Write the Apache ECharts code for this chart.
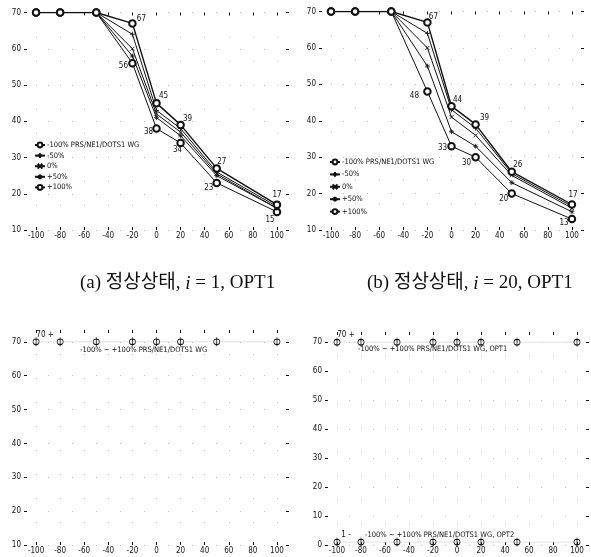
<!DOCTYPE html>
<html>
<head>
<meta charset="utf-8">
<script src="https://cdn.jsdelivr.net/npm/echarts@6/dist/echarts.min.js"></script>
<style>
  html, body { margin: 0; padding: 0; background: #fff; }
  #c { width: 591px; height: 557px; }
</style>
</head>
<body>
<div id="c"></div>
<script>
// tick labels
const xTicks = [-100, -80, -60, -40, -20, 0, 20, 40, 60, 80, 100];
const yTicks = [10, 20, 30, 40, 50, 60, 70];
const yTicksOpt2 = [0, 10, 20, 30, 40, 50, 60, 70];

// load-change positions where the response was evaluated
const xPos = [-100, -80, -50, -20, 0, 20, 50, 100];

// legend / series names
const seriesNames = ['-100% PRS/NE1/DOTS1 WG', '-50%', '0%', '+50%', '+100%'];

// (a) steady state, i = 1, OPT1
const aM100 = [70, 70, 70, 67, 45, 39, 27, 17];
const aM50  = [70, 70, 70, 64, 43, 38, 26, 16.5];
const aZero = [70, 70, 70, 60, 42, 37, 25.5, 16];
const aP50  = [70, 70, 70, 58, 41, 36, 25, 16];
const aP100 = [70, 70, 70, 56, 38, 34, 23, 15];

// (b) steady state, i = 20, OPT1
const bM100 = [70, 70, 70, 67, 44, 39, 26, 17];
const bM50  = [70, 70, 70, 64, 43, 38, 25.5, 16.5];
const bZero = [70, 70, 70, 60, 41, 36, 25, 16];
const bP50  = [70, 70, 70, 55, 37, 33, 23, 15];
const bP100 = [70, 70, 70, 48, 33, 30, 20, 13];

// lower panels: all load cases coincide
const cAll     = [70, 70, 70, 70, 70, 70, 70, 70];
const dAllOpt1 = [70, 70, 70, 70, 70, 70, 70, 70];
const dAllOpt2 = [1, 1, 1, 1, 1, 1, 1, 1];

// captions and notes
const captionA = '(a) 정상상태, {i|i} = 1, OPT1';
const captionB = '(b) 정상상태, {i|i} = 20, OPT1';
const noteC  = '-100% ~ +100% PRS/NE1/DOTS1 WG';
const noteD1 = '-100% ~ +100% PRS/NE1/DOTS1 WG, OPT1';
const noteD2 = '-100% ~ +100% PRS/NE1/DOTS1 WG, OPT2';

const INK = '#111';
const FONT = "'Liberation Sans Narrow','DejaVu Sans Condensed','Liberation Sans',sans-serif";
const SERIF = "'Liberation Serif','Noto Sans CJK KR',serif";

const SYM = {
  plus: 'path://M5,0L5,10M0,5L10,5',
  cross: 'path://M0,0L10,10M10,0L0,10',
  star: 'path://M5,0L5,10M0,5L10,5M1.6,1.6L8.4,8.4M8.4,1.6L1.6,8.4',
  ringBar: 'path://M5,-3L5,13M0,5A5,5 0 1 0 10,5A5,5 0 1 0 0,5'
};

const grids = [
  { left: 24,  top: 12.5, width: 265, height: 217.5 },
  { left: 319, top: 11.5, width: 265, height: 218.5 },
  { left: 24,  top: 330,  width: 265, height: 215 },
  { left: 325, top: 332,  width: 264, height: 213 }
];
const yRange = [[10, 70], [10, 70], [10, 73.5], [0, 73.5]];
const yTickSet = [yTicks, yTicks, yTicks, yTicksOpt2];

const gridDots = { color: '#bdbdbd', width: 1, type: [1, 23] };

const xAxes = [], yAxes = [];
grids.forEach((g, i) => {
  ['bottom', 'top'].forEach(pos => xAxes.push({
    type: 'value', gridIndex: i, position: pos, min: -110, max: 110,
    axisLine: { show: false, onZero: false },
    axisTick: { show: true, inside: true, length: 3, customValues: xTicks, lineStyle: { color: INK, width: 1 } },
    axisLabel: { show: pos === 'bottom', customValues: xTicks, margin: 2, fontSize: 8, fontFamily: FONT, color: INK },
    splitLine: { show: pos === 'bottom', lineStyle: gridDots }
  }));
  ['left', 'right'].forEach(pos => yAxes.push({
    type: 'value', gridIndex: i, position: pos, min: yRange[i][0], max: yRange[i][1],
    axisLine: { show: false, onZero: false },
    axisTick: { show: true, inside: true, length: 3, customValues: yTickSet[i], lineStyle: { color: INK, width: 1 } },
    axisLabel: { show: pos === 'left', customValues: yTickSet[i], margin: 3, fontSize: 8, fontFamily: FONT, color: INK },
    splitLine: { show: pos === 'left', lineStyle: gridDots }
  }));
});

// per-case marker and stroke
const caseStyle = [
  { symbol: 'emptyCircle', size: 6.5, width: 1.4, border: 0.9 },
  { symbol: SYM.plus,  size: 5, width: 1, border: 0.9 },
  { symbol: SYM.cross, size: 4, width: 1, border: 0.9 },
  { symbol: SYM.star,  size: 5, width: 1, border: 0.8 },
  { symbol: 'emptyCircle', size: 6.5, width: 1, border: 0.9 }
];

// value-label offsets (centred on the point) for the bounding cases
const offA = {
  0: [null, null, null, [9, -4], [7, -7], [7, -6], [5, -6], [0, -10]],
  4: [null, null, null, [-9, 3], [-8, 3], [-3, 7], [-8, 5], [-7, 8]]
};
const offB = {
  0: [null, null, null, [6, -6], [6, -6], [9, -6], [6, -7], [1, -10]],
  4: [null, null, null, [-13, 4], [-9, 2], [-9, 6], [-8, 5], [-8, 4]]
};

function points(ys, offs, fmt) {
  return xPos.map((x, k) => {
    const d = { value: [x, ys[k]] };
    if (offs && offs[k]) {
      d.label = {
        show: true, position: 'inside', offset: offs[k],
        fontSize: 8, fontFamily: FONT, color: INK,
        formatter: fmt || (p => String(p.value[1]))
      };
    }
    return d;
  });
}

const series = [];
function addPanel(gi, sets, offs) {
  sets.forEach((ys, s) => {
    const st = caseStyle[s];
    series.push({
      type: 'line', name: seriesNames[s], xAxisIndex: gi * 2, yAxisIndex: gi * 2,
      data: points(ys, offs[s]),
      symbol: st.symbol, symbolSize: st.size, showAllSymbol: true,
      lineStyle: { color: INK, width: st.width },
      itemStyle: { color: INK, borderColor: INK, borderWidth: st.border },
      emphasis: { disabled: true }, animation: false, z: 10 - s
    });
  });
}
addPanel(0, [aM100, aM50, aZero, aP50, aP100], offA);
addPanel(1, [bM100, bM50, bZero, bP50, bP100], offB);

function flatSeries(gi, ys, tail, name) {
  const offs = [[9, -7]];
  return {
    type: 'line', name: name, xAxisIndex: gi * 2, yAxisIndex: gi * 2,
    data: points(ys, offs, p => p.value[1] + ' ' + tail),
    symbol: SYM.ringBar, symbolSize: [6, 9], showAllSymbol: true,
    lineStyle: { color: '#cfcfcf', width: 0.6 },
    itemStyle: { color: 'rgba(0,0,0,0)', borderColor: INK, borderWidth: 0.9 },
    emphasis: { disabled: true }, animation: false
  };
}
series.push(flatSeries(2, cAll, '+', 'c1'));
series.push(flatSeries(3, dAllOpt1, '+', 'd1'));
series.push(flatSeries(3, dAllOpt2, '-', 'd2'));

const legendBase = {
  orient: 'vertical', itemWidth: 10, itemHeight: 6, padding: 0,
  selectedMode: false, data: seriesNames,
  textStyle: { fontSize: 7.5, fontFamily: FONT, color: INK, padding: [0, 0, 0, -3] }
};

const captionStyle = {
  fontSize: 19, fontFamily: SERIF, fill: '#111',
  rich: { i: { fontStyle: 'italic', fontSize: 19, fontFamily: "'Liberation Serif',serif" } }
};

const option = {
  backgroundColor: '#fff',
  animation: false,
  grid: grids,
  xAxis: xAxes,
  yAxis: yAxes,
  legend: [
    Object.assign({}, legendBase, { left: 34, top: 141, itemGap: 2.6 }),
    Object.assign({}, legendBase, { left: 329, top: 158, itemGap: 4.4 })
  ],
  series: series,
  graphic: [
    { type: 'text', left: 80, top: 274, style: Object.assign({ text: captionA }, captionStyle) },
    { type: 'text', left: 367, top: 274, style: Object.assign({ text: captionB }, captionStyle) },
    { type: 'text', left: 80, top: 346, style: { text: noteC, fontSize: 7.5, fontFamily: FONT, fill: INK } },
    { type: 'text', left: 358, top: 345, style: { text: noteD1, fontSize: 7.5, fontFamily: FONT, fill: INK } },
    { type: 'text', left: 365, top: 531, style: { text: noteD2, fontSize: 7.5, fontFamily: FONT, fill: INK } }
  ]
};

const chart = echarts.init(document.getElementById('c'));
chart.setOption(option);
</script>
</body>
</html>
